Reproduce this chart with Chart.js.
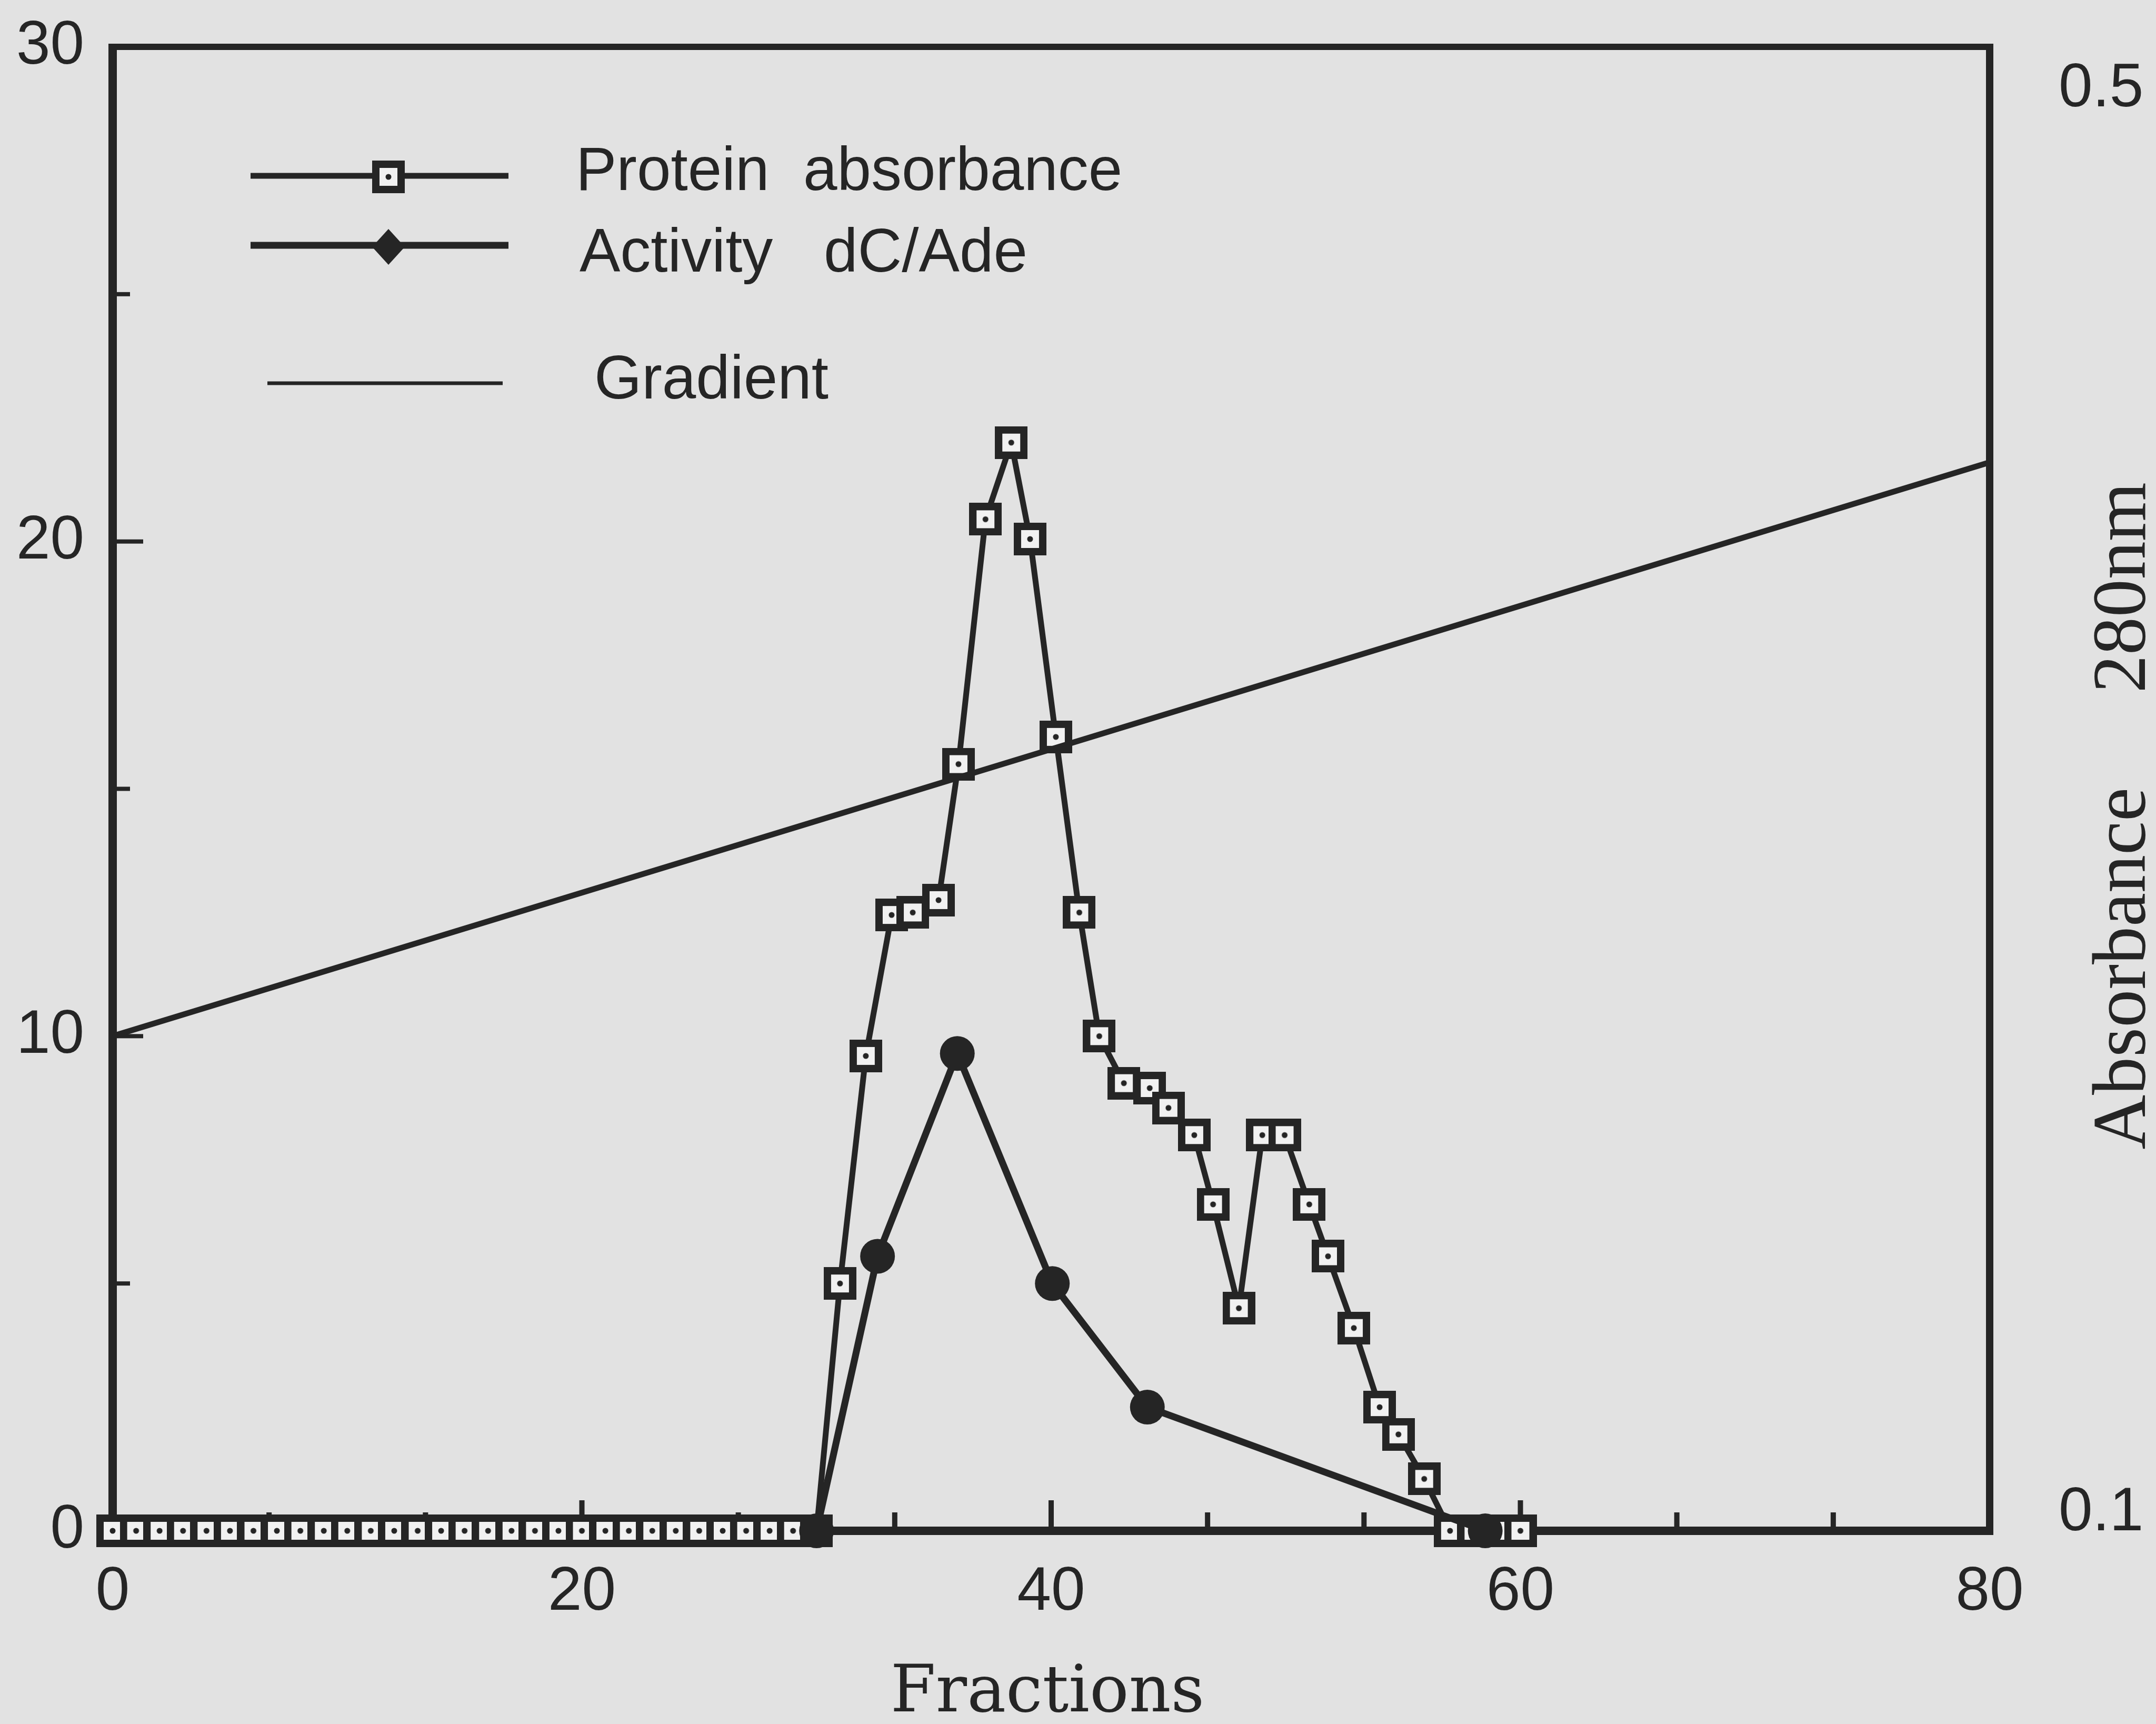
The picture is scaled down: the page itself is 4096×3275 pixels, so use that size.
<!DOCTYPE html>
<html>
<head>
<meta charset="utf-8">
<title>Fractions</title>
<script src="https://cdn.jsdelivr.net/npm/chart.js@4.4.1/dist/chart.umd.min.js"></script>
<style>
  html, body { margin: 0; padding: 0; background: #e2e2e2; }
  #wrap { width: 4096px; height: 3275px; }
</style>
</head>
<body>
<div id="wrap"><canvas id="elution" width="4096" height="3275"></canvas></div>
<script>
// fraction number / protein absorbance (left scale)
const proteinFractions = [
  0, 1, 2, 3, 4, 5, 6, 7, 8, 9, 10, 11, 12, 13, 14, 15, 16, 17, 18, 19, 20,
  21, 22, 23, 24, 25, 26, 27, 28, 29, 30,
  31.0, 32.1, 33.2, 34.1, 35.2, 36.05, 37.2, 38.3, 39.1, 40.2, 41.2, 42.05,
  43.1, 44.2, 45.0, 46.1, 46.9, 48.0, 49.0, 49.95, 51.0, 51.8, 52.9, 54.0,
  54.8, 55.9, 57, 58, 59, 60
];
const proteinValues = [
  0, 0, 0, 0, 0, 0, 0, 0, 0, 0, 0, 0, 0, 0, 0, 0, 0, 0, 0, 0, 0,
  0, 0, 0, 0, 0, 0, 0, 0, 0, 0,
  5.0, 9.6, 12.45, 12.5, 12.75, 15.5, 20.45, 22.0, 20.05, 16.05, 12.5, 10.0,
  9.05, 8.95, 8.55, 8.0, 6.6, 4.5, 8.0, 8.0, 6.6, 5.55, 4.1, 2.5,
  1.95, 1.05, 0, 0, 0, 0
];

// dC/Ade activity
const activityFractions = [30, 32.6, 36.0, 40.05, 44.1, 58.5];
const activityValues = [0, 5.55, 9.65, 5.0, 2.5, 0];

// salt gradient, straight line across the run
const gradientFractions = [0, 80];
const gradientValues = [10.0, 21.6];

// tick labels
const fractionTicks = [0, 20, 40, 60, 80];
const leftTicks = [0, 10, 20, 30];
const absorbanceTicks = [0.1, 0.5];

const INK = '#252525';
const PAPER = '#e2e2e2';
const SANS = "'Liberation Sans', Arial, sans-serif";

const toPoints = (xs, ys) => xs.map((x, i) => ({ x: x, y: ys[i] }));

// open square with a dot in the middle
function squareMarker(size) {
  const c = document.createElement('canvas');
  c.width = size;
  c.height = size;
  const g = c.getContext('2d');
  const b = 14;
  g.fillStyle = INK;
  g.fillRect(0, 0, size, size);
  g.fillStyle = '#f1f1f1';
  g.fillRect(b, b, size - 2 * b, size - 2 * b);
  g.fillStyle = INK;
  g.beginPath();
  g.arc(size / 2, size / 2, 5.5, 0, Math.PI * 2);
  g.fill();
  return c;
}
const squareImg = squareMarker(62);

// scales keep exactly the room given to them, no extra label overhang
function fixedBox(w, h) {
  return s => {
    if (w !== null) s.width = w;
    if (h !== null) s.height = h;
    s.paddingTop = 0;
    s.paddingBottom = 0;
    s.paddingLeft = 0;
    s.paddingRight = 0;
  };
}

const paper = {
  id: 'paper',
  beforeDraw(chart) {
    const ctx = chart.ctx;
    ctx.save();
    ctx.fillStyle = PAPER;
    ctx.fillRect(0, 0, chart.width, chart.height);
    ctx.restore();
  }
};

// box round the plot and the inward tick marks
const frame = {
  id: 'frame',
  beforeDatasetsDraw(chart) {
    const { ctx, chartArea: a, scales } = chart;
    const x = scales.x, y = scales.y;
    ctx.save();
    ctx.fillStyle = INK;

    // bottom ticks, three divisions between labels
    for (let k = 1; k < 12; k++) {
      const px = x.getPixelForValue(k * 20 / 3);
      const len = k % 3 === 0 ? 58 : 35;
      ctx.fillRect(px - 5, a.bottom - len, 10, len);
    }
    // left ticks every 5
    for (let k = 1; k < 6; k++) {
      const py = y.getPixelForValue(k * 5);
      const len = k % 2 === 0 ? 58 : 33;
      ctx.fillRect(a.left, py - 4, len, 8);
    }

    ctx.fillRect(a.left - 8, a.top - 6, 16, a.bottom - a.top + 14);   // left
    ctx.fillRect(a.left - 8, a.top - 6, a.right - a.left + 15, 12);   // top
    ctx.fillRect(a.right - 7, a.top - 6, 14, a.bottom - a.top + 14);  // right
    ctx.fillRect(a.left - 8, a.bottom - 8, a.right - a.left + 15, 16); // bottom
    ctx.restore();
  }
};

// key in the upper left, and the two axis titles
const notes = {
  id: 'notes',
  afterDraw(chart) {
    const ctx = chart.ctx;
    ctx.save();
    ctx.strokeStyle = INK;
    ctx.fillStyle = INK;
    ctx.lineCap = 'butt';

    ctx.lineWidth = 11;
    ctx.beginPath(); ctx.moveTo(476, 334); ctx.lineTo(966, 334); ctx.stroke();
    ctx.drawImage(squareImg, 738 - 31, 336 - 31);

    ctx.lineWidth = 13;
    ctx.beginPath(); ctx.moveTo(476, 466); ctx.lineTo(966, 466); ctx.stroke();
    ctx.beginPath();
    ctx.moveTo(738 - 31, 469); ctx.lineTo(738, 435);
    ctx.lineTo(738 + 31, 469); ctx.lineTo(738, 503);
    ctx.closePath(); ctx.fill();

    ctx.lineWidth = 7;
    ctx.beginPath(); ctx.moveTo(508, 728); ctx.lineTo(955, 728); ctx.stroke();

    ctx.font = '116px ' + SANS;
    ctx.textAlign = 'left';
    ctx.textBaseline = 'alphabetic';
    ctx.fillText('Protein  absorbance', 1094, 361);
    ctx.fillText('Activity   dC/Ade', 1101, 516);
    ctx.fillText('Gradient', 1129, 757);

    ctx.font = "124px 'DejaVu Serif', serif";
    ctx.textAlign = 'center';
    ctx.fillText('Fractions', 1990, 3251);

    ctx.translate(4075, 1550);
    ctx.rotate(-Math.PI / 2);
    ctx.font = "144px 'Liberation Serif', 'Times New Roman', serif";
    ctx.fillText('Absorbance     280nm', 0, 0);
    ctx.restore();
  }
};

const tickFont = { family: SANS, size: 116 };

new Chart(document.getElementById('elution'), {
  type: 'line',
  data: {
    datasets: [
      {
        label: 'Protein absorbance',
        data: toPoints(proteinFractions, proteinValues),
        yAxisID: 'y',
        order: 3,
        borderColor: INK,
        borderWidth: 11,
        pointStyle: squareImg,
        pointRadius: 31,
        tension: 0,
        clip: false
      },
      {
        label: 'Activity dC/Ade',
        data: toPoints(activityFractions, activityValues),
        yAxisID: 'y',
        order: 2,
        borderColor: INK,
        borderWidth: 13,
        pointStyle: 'circle',
        pointRadius: 33,
        pointBackgroundColor: INK,
        pointBorderColor: INK,
        pointBorderWidth: 0,
        tension: 0,
        clip: false
      },
      {
        label: 'Gradient',
        data: toPoints(gradientFractions, gradientValues),
        yAxisID: 'y',
        order: 1,
        borderColor: INK,
        borderWidth: 11,
        pointRadius: 0,
        tension: 0,
        clip: false
      }
    ]
  },
  options: {
    responsive: false,
    devicePixelRatio: 1,
    animation: false,
    events: [],
    layout: { padding: { top: 89, left: 0, right: 0, bottom: 0 } },
    plugins: { legend: { display: false }, tooltip: { enabled: false } },
    scales: {
      x: {
        type: 'linear',
        position: 'bottom',
        min: 0,
        max: 80,
        afterFit: fixedBox(null, 3275 - 2908),
        afterBuildTicks: s => { s.ticks = fractionTicks.map(v => ({ value: v })); },
        grid: { display: false, drawTicks: false },
        border: { display: false },
        ticks: { font: tickFont, color: INK, padding: 48, maxRotation: 0, autoSkip: false }
      },
      y: {
        type: 'linear',
        position: 'left',
        min: 0,
        max: 30,
        afterFit: fixedBox(214, null),
        afterBuildTicks: s => { s.ticks = leftTicks.map(v => ({ value: v })); },
        grid: { display: false, drawTicks: false },
        border: { display: false },
        ticks: { font: tickFont, color: INK, padding: 54 }
      },
      y2: {
        type: 'linear',
        position: 'right',
        min: 0.0951,
        max: 0.512,
        afterFit: fixedBox(4096 - 3780, null),
        afterBuildTicks: s => { s.ticks = absorbanceTicks.map(v => ({ value: v })); },
        grid: { display: false, drawTicks: false },
        border: { display: false },
        ticks: { font: tickFont, color: INK, padding: 131, callback: v => v.toFixed(1) }
      }
    }
  },
  plugins: [paper, frame, notes]
});
</script>
</body>
</html>
